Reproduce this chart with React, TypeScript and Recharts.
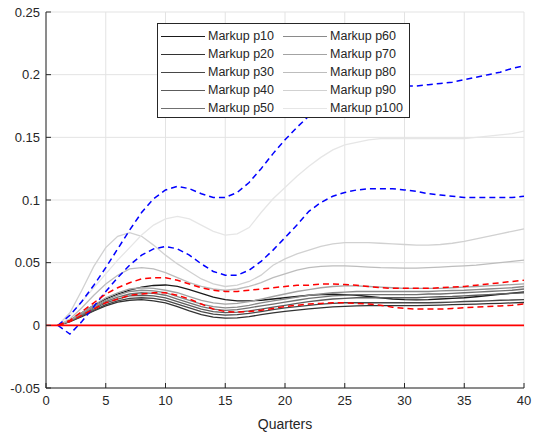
import React from 'react';
import { LineChart, Line, XAxis, YAxis, CartesianGrid, Legend, ReferenceLine } from 'recharts';

const quarters = Array.from({ length: 40 }, (_, i) => i + 1);

const xTicks = [0, 5, 10, 15, 20, 25, 30, 35, 40];
const yTicks = [-0.05, 0, 0.05, 0.1, 0.15, 0.2, 0.25];

// blue dashed band
const bandHi = [0, 0.008, 0.019, 0.032, 0.046, 0.061, 0.076, 0.09, 0.101, 0.108, 0.111, 0.109, 0.105, 0.102, 0.102, 0.106, 0.114, 0.125, 0.137, 0.148,
  0.158, 0.167, 0.175, 0.181, 0.185, 0.188, 0.19, 0.191, 0.191, 0.191, 0.191, 0.192, 0.193, 0.194, 0.196, 0.198, 0.2, 0.202, 0.205, 0.207];
const bandLo = [0, -0.007, 0.003, 0.015, 0.027, 0.038, 0.048, 0.056, 0.061, 0.063, 0.061, 0.056, 0.049, 0.043, 0.04, 0.04, 0.044, 0.051, 0.06, 0.07,
  0.08, 0.091, 0.098, 0.103, 0.106, 0.108, 0.109, 0.109, 0.109, 0.108, 0.107, 0.105, 0.104, 0.103, 0.102, 0.102, 0.102, 0.102, 0.102, 0.103];

// red dashed band
const ciHi = [0, 0.004, 0.011, 0.018, 0.025, 0.03, 0.034, 0.037, 0.038, 0.038, 0.036, 0.033, 0.03, 0.028, 0.027, 0.027, 0.028, 0.029, 0.03, 0.031,
  0.032, 0.032, 0.033, 0.033, 0.0325, 0.032, 0.031, 0.03, 0.0295, 0.0295, 0.0295, 0.0295, 0.03, 0.0305, 0.031, 0.032, 0.033, 0.034, 0.035, 0.036];
const ciLo = [0, 0.003, 0.008, 0.013, 0.018, 0.021, 0.024, 0.025, 0.026, 0.026, 0.024, 0.021, 0.017, 0.013, 0.011, 0.0105, 0.011, 0.012, 0.0135, 0.015,
  0.016, 0.017, 0.0175, 0.018, 0.018, 0.0175, 0.017, 0.016, 0.0145, 0.0135, 0.013, 0.013, 0.013, 0.0135, 0.014, 0.0145, 0.015, 0.0155, 0.016, 0.017];

// markup percentiles
const p10 = [0, 0.004, 0.01, 0.016, 0.021, 0.025, 0.028, 0.0305, 0.0318, 0.0322, 0.031, 0.0285, 0.0255, 0.0225, 0.0205, 0.0195, 0.0195, 0.02, 0.021, 0.022,
  0.023, 0.024, 0.0245, 0.0248, 0.0245, 0.024, 0.023, 0.022, 0.021, 0.0205, 0.0203, 0.0205, 0.021, 0.0215, 0.022, 0.0228, 0.0238, 0.0248, 0.0257, 0.0266];
const p20 = [0, 0.003, 0.007, 0.0115, 0.0155, 0.0185, 0.02, 0.0205, 0.0195, 0.018, 0.015, 0.0115, 0.0085, 0.0065, 0.0058, 0.006, 0.007, 0.0085, 0.01, 0.0112,
  0.0122, 0.0132, 0.014, 0.0147, 0.0152, 0.0155, 0.0157, 0.0158, 0.0158, 0.0158, 0.0158, 0.016, 0.0162, 0.0165, 0.0168, 0.017, 0.0173, 0.0176, 0.0179, 0.0182];
const p30 = [0, 0.003, 0.0075, 0.012, 0.0165, 0.0195, 0.0215, 0.022, 0.0215, 0.02, 0.017, 0.014, 0.011, 0.009, 0.0082, 0.0085, 0.0095, 0.011, 0.0125, 0.014,
  0.015, 0.016, 0.017, 0.0175, 0.018, 0.018, 0.018, 0.018, 0.018, 0.018, 0.018, 0.018, 0.0182, 0.0185, 0.019, 0.0192, 0.0195, 0.02, 0.0202, 0.0205];
const p40 = [0, 0.0035, 0.008, 0.013, 0.018, 0.021, 0.0235, 0.024, 0.0235, 0.022, 0.019, 0.016, 0.013, 0.011, 0.0102, 0.0105, 0.0115, 0.013, 0.0145, 0.016,
  0.0175, 0.019, 0.02, 0.021, 0.0215, 0.022, 0.022, 0.022, 0.022, 0.022, 0.022, 0.0225, 0.0228, 0.023, 0.0235, 0.024, 0.0245, 0.025, 0.0255, 0.026];
const p50 = [0, 0.0035, 0.0085, 0.014, 0.019, 0.0225, 0.025, 0.026, 0.0255, 0.024, 0.021, 0.018, 0.015, 0.013, 0.012, 0.0125, 0.014, 0.0155, 0.017, 0.0185,
  0.02, 0.0215, 0.0225, 0.0235, 0.024, 0.0245, 0.0245, 0.0245, 0.0245, 0.0245, 0.0245, 0.025, 0.025, 0.0255, 0.026, 0.0265, 0.027, 0.0275, 0.028, 0.029];
const p60 = [0, 0.004, 0.009, 0.015, 0.02, 0.024, 0.027, 0.028, 0.0275, 0.026, 0.023, 0.02, 0.017, 0.015, 0.014, 0.0145, 0.016, 0.018, 0.0195, 0.021,
  0.0225, 0.024, 0.025, 0.026, 0.0265, 0.027, 0.027, 0.027, 0.027, 0.027, 0.027, 0.027, 0.0275, 0.0278, 0.028, 0.0285, 0.029, 0.0295, 0.03, 0.031];
const p70 = [0, 0.004, 0.01, 0.016, 0.022, 0.026, 0.029, 0.03, 0.0295, 0.028, 0.026, 0.023, 0.02, 0.018, 0.017, 0.0175, 0.019, 0.021, 0.023, 0.025,
  0.027, 0.0285, 0.03, 0.031, 0.0315, 0.0315, 0.031, 0.0305, 0.03, 0.0295, 0.0295, 0.0295, 0.0295, 0.03, 0.0305, 0.031, 0.0315, 0.032, 0.0325, 0.033];
const p80 = [0, 0.005, 0.014, 0.024, 0.033, 0.04, 0.045, 0.046, 0.045, 0.042, 0.038, 0.034, 0.031, 0.029, 0.028, 0.029, 0.031, 0.034, 0.038, 0.041,
  0.044, 0.046, 0.047, 0.0475, 0.0475, 0.047, 0.0465, 0.046, 0.0458, 0.0457, 0.0457, 0.046, 0.0465, 0.047, 0.0475, 0.048, 0.049, 0.05, 0.051, 0.052];
const p90 = [0, 0.01, 0.028, 0.047, 0.062, 0.071, 0.074, 0.071, 0.064, 0.056, 0.049, 0.043, 0.037, 0.033, 0.031, 0.032, 0.035, 0.04, 0.048, 0.053,
  0.057, 0.06, 0.063, 0.065, 0.066, 0.066, 0.066, 0.0655, 0.065, 0.0645, 0.064, 0.064, 0.0645, 0.0655, 0.067, 0.069, 0.071, 0.073, 0.075, 0.077];
const p100 = [0, 0.008, 0.019, 0.03, 0.041, 0.052, 0.062, 0.072, 0.08, 0.085, 0.087, 0.085, 0.08, 0.075, 0.072, 0.073, 0.078, 0.09, 0.101, 0.11,
  0.119, 0.127, 0.134, 0.14, 0.144, 0.146, 0.148, 0.149, 0.149, 0.149, 0.149, 0.149, 0.149, 0.149, 0.149, 0.15, 0.151, 0.152, 0.153, 0.155];

const markups = [
  { key: 'p10', name: 'Markup p10', values: p10, color: '#1a1a1a' },
  { key: 'p20', name: 'Markup p20', values: p20, color: '#333333' },
  { key: 'p30', name: 'Markup p30', values: p30, color: '#474747' },
  { key: 'p40', name: 'Markup p40', values: p40, color: '#5c5c5c' },
  { key: 'p50', name: 'Markup p50', values: p50, color: '#707070' },
  { key: 'p60', name: 'Markup p60', values: p60, color: '#8a8a8a' },
  { key: 'p70', name: 'Markup p70', values: p70, color: '#a3a3a3' },
  { key: 'p80', name: 'Markup p80', values: p80, color: '#bdbdbd' },
  { key: 'p90', name: 'Markup p90', values: p90, color: '#d1d1d1' },
  { key: 'p100', name: 'Markup p100', values: p100, color: '#e6e6e6' },
];
const markupOrder = markups.map(m => m.key);

const data = quarters.map((q, i) => {
  const row: any = { q, bandHi: bandHi[i], bandLo: bandLo[i], ciHi: ciHi[i], ciLo: ciLo[i] };
  markups.forEach(m => { row[m.key] = m.values[i]; });
  return row;
});

const FONT = '"Liberation Sans", Arial, Helvetica, sans-serif';
const TXT = '#262626';

const LegendBox = ({ payload }: any) => {
  const items = (payload || [])
    .filter((p: any) => markupOrder.includes(String(p.dataKey)))
    .sort((a: any, b: any) => markupOrder.indexOf(String(a.dataKey)) - markupOrder.indexOf(String(b.dataKey)));
  const cols = [items.slice(0, 5), items.slice(5, 10)];
  return (
    <div style={{ background: '#fff', border: '1px solid #262626', width: 253, height: 95, boxSizing: 'border-box', display: 'flex', fontFamily: FONT, fontSize: 12.5, color: TXT }}>
      {cols.map((col, ci) => (
        <div key={ci} style={{ paddingTop: 3, paddingLeft: ci === 0 ? 3 : 9 }}>
          {col.map((it: any) => (
            <div key={it.value} style={{ display: 'flex', alignItems: 'center', height: 18 }}>
              <span style={{ display: 'inline-block', width: 44, height: 0, borderTop: `1.3px solid ${it.color}`, marginRight: 3 }} />
              <span>{it.value}</span>
            </div>
          ))}
        </div>
      ))}
    </div>
  );
};

export default function App() {
  return (
    <div style={{ position: 'absolute', left: 0, top: 0, background: '#fff' }}>
      <LineChart width={534} height={432} data={data} margin={{ top: 12, right: 10, bottom: 0, left: 0 }}>
        <CartesianGrid stroke="#e3e3e3" strokeWidth={1} />
        <XAxis
          dataKey="q"
          type="number"
          domain={[0, 40]}
          ticks={xTicks}
          height={44}
          tickSize={-5}
          tickMargin={13}
          axisLine={{ stroke: TXT }}
          tickLine={{ stroke: TXT }}
          tick={{ fill: TXT, fontSize: 13, fontFamily: FONT }}
          label={{ value: 'Quarters', position: 'insideBottom', offset: 3, fill: TXT, fontSize: 14, fontFamily: FONT }}
        />
        <YAxis
          type="number"
          domain={[-0.05, 0.25]}
          ticks={yTicks}
          width={46}
          tickSize={-5}
          tickMargin={11}
          axisLine={{ stroke: TXT }}
          tickLine={{ stroke: TXT }}
          tick={{ fill: TXT, fontSize: 13, fontFamily: FONT }}
          interval={0}
        />
        {markups.map(m => (
          <Line key={m.key} dataKey={m.key} name={m.name} stroke={m.color} strokeWidth={1.3} dot={false} type="linear" isAnimationActive={false} />
        ))}
        <Line dataKey="bandHi" stroke="#0000ff" strokeWidth={1.5} strokeDasharray="6 4" dot={false} type="linear" isAnimationActive={false} />
        <Line dataKey="bandLo" stroke="#0000ff" strokeWidth={1.5} strokeDasharray="6 4" dot={false} type="linear" isAnimationActive={false} />
        <Line dataKey="ciHi" stroke="#ff0000" strokeWidth={1.5} strokeDasharray="6 4" dot={false} type="linear" isAnimationActive={false} />
        <Line dataKey="ciLo" stroke="#ff0000" strokeWidth={1.5} strokeDasharray="6 4" dot={false} type="linear" isAnimationActive={false} />
        <ReferenceLine y={0} stroke="#ff0000" strokeWidth={1.6} />
        <Legend
          content={<LegendBox />}
          layout="horizontal"
          verticalAlign="middle"
          align="center"
          wrapperStyle={{ left: 157, top: 23, width: 253, height: 95 }}
        />
      </LineChart>
    </div>
  );
}
